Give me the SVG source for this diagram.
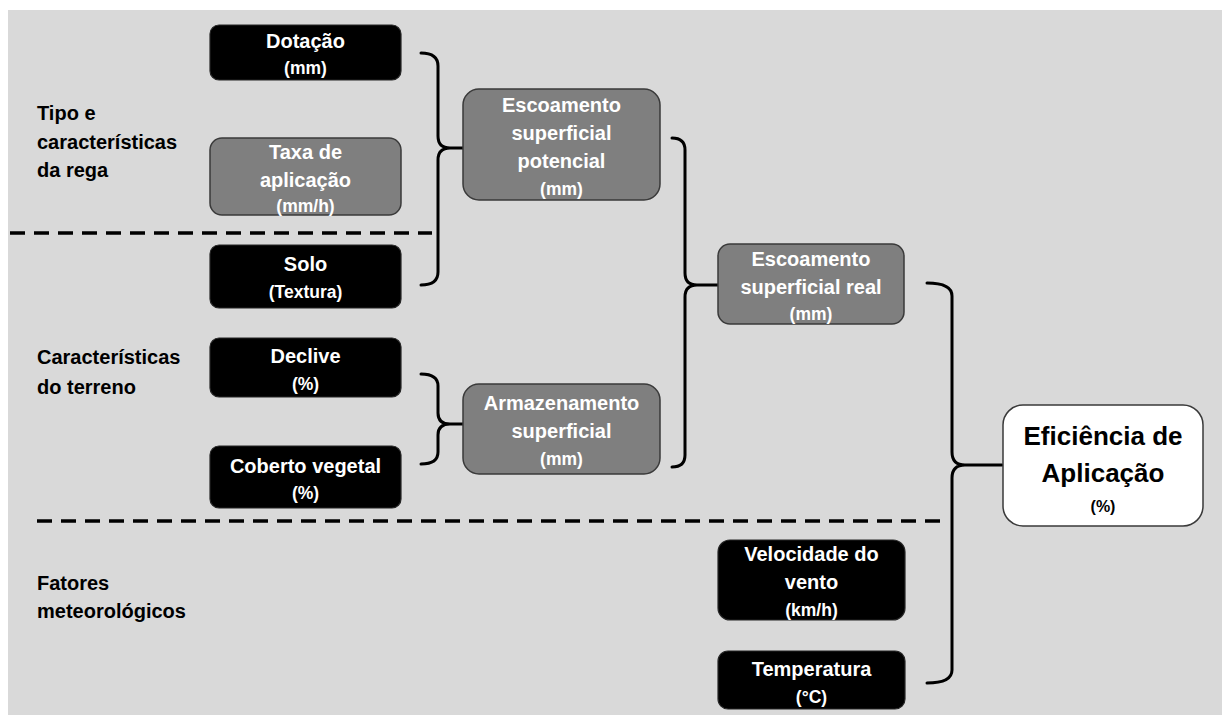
<svg xmlns="http://www.w3.org/2000/svg" width="1222" height="715" viewBox="0 0 1222 715">
<style>
text{font-family:"Liberation Sans",Arial,sans-serif;font-weight:bold;text-anchor:middle}
.blk{fill:#000;stroke:#262626;stroke-width:1.2}
.gry{fill:#7f7f7f;stroke:#3a3a3a;stroke-width:1.5}
.wht{fill:#fff;stroke:#3a3a3a;stroke-width:1.5}
.t{fill:#fff;font-size:20px}
.s{fill:#fff;font-size:17.5px}
.lab{fill:#000;font-size:20px;text-anchor:start}
.br{fill:none;stroke:#000;stroke-width:3;stroke-linecap:round}
.dash{stroke:#000;stroke-width:3.5;stroke-dasharray:15 9}
</style>
<rect x="0" y="0" width="1222" height="715" fill="#fff"/>
<rect x="8" y="10" width="1214" height="705" fill="#d9d9d9"/>

<g id="labels">
<text class="lab" x="37" y="120">Tipo e</text>
<text class="lab" x="37" y="149">características</text>
<text class="lab" x="37" y="177">da rega</text>
<text class="lab" x="37" y="364">Características</text>
<text class="lab" x="37" y="394">do terreno</text>
<text class="lab" x="37" y="590">Fatores</text>
<text class="lab" x="37" y="618">meteorológicos</text>
</g>

<g id="separators">
<line class="dash" x1="10" y1="233" x2="432" y2="233"/>
<line class="dash" x1="37" y1="521" x2="945" y2="521"/>
</g>

<g id="connectors">
<path class="br" d="M421,53 Q438,53 438,66 V136 Q438,148 450,148 H464 M450,148 Q438,148 438,160 V272 Q438,285 421,285"/>
<path class="br" d="M421,374 Q438,374 438,386 V413 Q438,424 450,424 H464 M450,424 Q438,424 438,435 V452 Q438,464 421,464"/>
<path class="br" d="M672,138 Q685,138 685,150 V273 Q685,285 697,285 H718 M697,285 Q685,285 685,297 V455 Q685,467 672,467"/>
<path class="br" d="M927,283 Q952,283 952,296 V452 Q952,465 965,465 H1002 M965,465 Q952,465 952,478 V670 Q952,683 927,683"/>
</g>

<g id="n-dotacao">
<rect class="blk" x="210" y="25" width="191" height="55" rx="9"/>
<text class="t" x="305.5" y="48">Dotação</text>
<text class="s" x="305.5" y="74">(mm)</text>
</g>
<g id="n-taxa">
<rect class="gry" x="210" y="138" width="191" height="77" rx="12"/>
<text class="t" x="305.5" y="159">Taxa de</text>
<text class="t" x="305.5" y="187">aplicação</text>
<text class="s" x="305.5" y="212">(mm/h)</text>
</g>
<g id="n-solo">
<rect class="blk" x="210" y="245" width="191" height="63" rx="9"/>
<text class="t" x="305.5" y="271">Solo</text>
<text class="s" x="305.5" y="298">(Textura)</text>
</g>
<g id="n-declive">
<rect class="blk" x="210" y="338" width="191" height="59" rx="9"/>
<text class="t" x="305.5" y="363">Declive</text>
<text class="s" x="305.5" y="390">(%)</text>
</g>
<g id="n-coberto">
<rect class="blk" x="210" y="446" width="191" height="62" rx="9"/>
<text class="t" x="305.5" y="473">Coberto vegetal</text>
<text class="s" x="305.5" y="499">(%)</text>
</g>
<g id="n-esc-pot">
<rect class="gry" x="463" y="89" width="197" height="111" rx="16"/>
<text class="t" x="561.5" y="112">Escoamento</text>
<text class="t" x="561.5" y="140">superficial</text>
<text class="t" x="561.5" y="168">potencial</text>
<text class="s" x="561.5" y="195">(mm)</text>
</g>
<g id="n-armaz">
<rect class="gry" x="463" y="384" width="197" height="90" rx="16"/>
<text class="t" x="561.5" y="410">Armazenamento</text>
<text class="t" x="561.5" y="438">superficial</text>
<text class="s" x="561.5" y="465">(mm)</text>
</g>
<g id="n-esc-real">
<rect class="gry" x="718" y="244" width="186" height="80" rx="12"/>
<text class="t" x="811" y="266">Escoamento</text>
<text class="t" x="811" y="294">superficial real</text>
<text class="s" x="811" y="320">(mm)</text>
</g>
<g id="n-vento">
<rect class="blk" x="718" y="540" width="187" height="80" rx="12"/>
<text class="t" x="811.5" y="561">Velocidade do</text>
<text class="t" x="811.5" y="589">vento</text>
<text class="s" x="811.5" y="616">(km/h)</text>
</g>
<g id="n-temp">
<rect class="blk" x="718" y="651" width="187" height="58" rx="10"/>
<text class="t" x="811.5" y="676">Temperatura</text>
<text class="s" x="811.5" y="703">(°C)</text>
</g>
<g id="n-eficiencia">
<rect class="wht" x="1003" y="405" width="200" height="121" rx="20"/>
<text x="1103" y="445" style="font-size:26px;fill:#000">Eficiência de</text>
<text x="1103" y="482" style="font-size:26px;fill:#000">Aplicação</text>
<text x="1103" y="512" style="font-size:16px;fill:#000">(%)</text>
</g>
</svg>
